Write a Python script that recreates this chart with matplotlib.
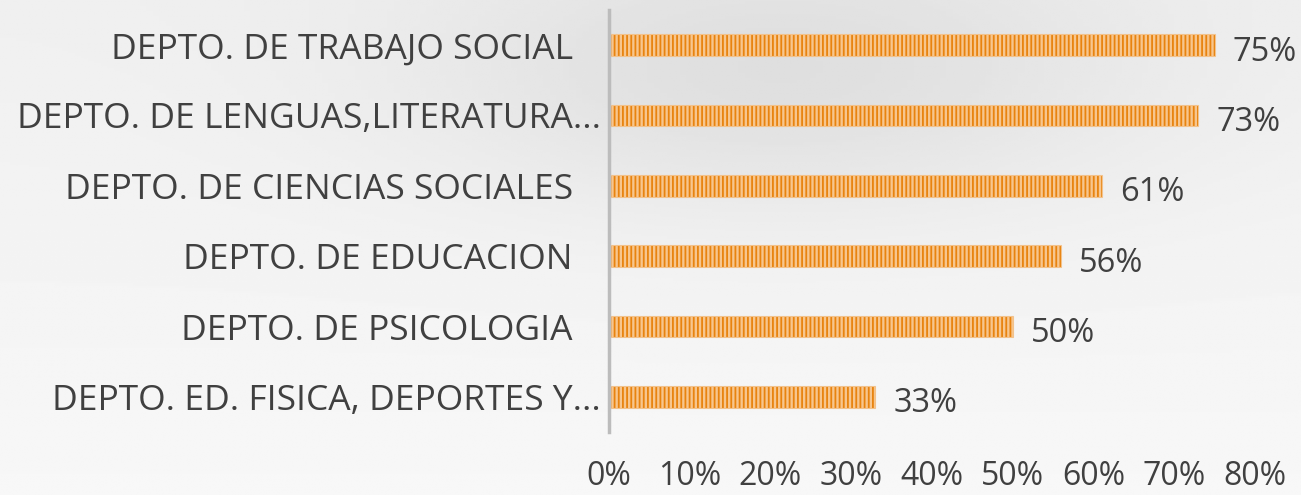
import numpy as np
import matplotlib.pyplot as plt
import matplotlib as mpl

departamentos = [
    "DEPTO. DE TRABAJO SOCIAL   ",
    "DEPTO. DE LENGUAS,LITERATURA...",
    "DEPTO. DE CIENCIAS SOCIALES   ",
    "DEPTO. DE EDUCACION   ",
    "DEPTO. DE PSICOLOGIA   ",
    "DEPTO. ED. FISICA, DEPORTES Y...",
]
porcentajes = [75, 73, 61, 56, 50, 33]
ticks = [0, 10, 20, 30, 40, 50, 60, 70, 80]

mpl.rcParams["font.family"] = ["Open Sans", "DejaVu Sans"]
mpl.rcParams["hatch.linewidth"] = 1.3

fig = plt.figure(figsize=(13.01, 4.95), dpi=100)

# fondo gris degradado
bg = fig.add_axes([0, 0, 1, 1], zorder=-10)
yy, xx = np.mgrid[0:1:200j, 0:1:200j]
grad = 0.94 - 0.07 * np.exp(-((xx - 0.6) ** 2) / 0.08 - (yy - 0.15) ** 2 / 0.08) \
       + 0.03 * yy
bg.imshow(grad, cmap="gray", vmin=0, vmax=1, aspect="auto", extent=[0, 1, 0, 1])
bg.axis("off")

ax = fig.add_axes([609 / 1301, 1 - 432 / 495, (1255 - 609) / 1301, 422 / 495])
ax.patch.set_alpha(0)

y = np.arange(len(departamentos))[::-1]
ax.barh(y, porcentajes, height=0.31, color="#f7c68e", hatch="||||",
        edgecolor="#e8830f", linewidth=0)
ax.barh(y, porcentajes, height=0.31, color="none", edgecolor="#f2c28c",
        linewidth=0.8)

for yi, v in zip(y, porcentajes):
    ax.annotate(f"{v}%", (v, yi), xytext=(13, -5), textcoords="offset points",
                ha="left", va="center", fontsize=23.5, color="#404040")

ax.set_xlim(0, 80)
ax.set_ylim(-0.5, len(departamentos) - 0.5)
ax.set_yticks(y)
ax.set_yticklabels(departamentos, fontsize=25.5, color="#404040")
ax.set_xticks(ticks)
ax.set_xticklabels([f"{t}%" for t in ticks], fontsize=23, color="#404040")
ax.tick_params(axis="y", length=0, pad=6)
ax.tick_params(axis="x", length=0, pad=20)

for s in ["top", "right", "bottom"]:
    ax.spines[s].set_visible(False)
ax.spines["left"].set_color("#bcbcbc")
ax.spines["left"].set_linewidth(2.5)

plt.savefig("out.png", dpi=100)
plt.close()
